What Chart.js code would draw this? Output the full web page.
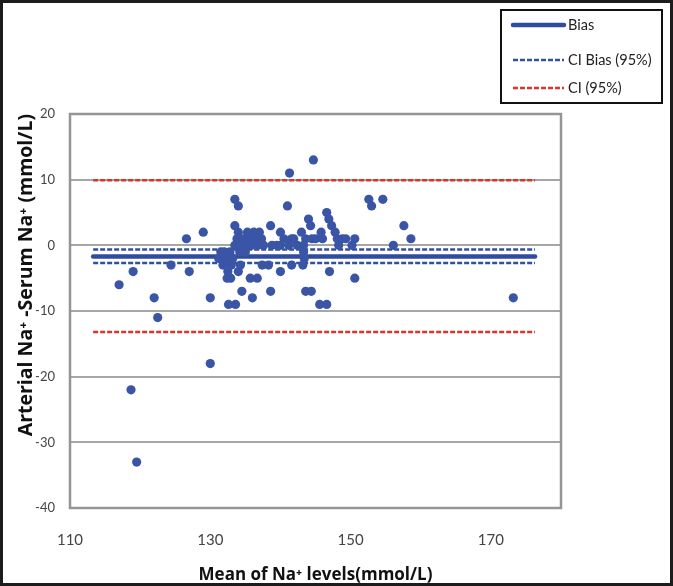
<!DOCTYPE html>
<html>
<head>
<meta charset="utf-8">
<script src="https://cdn.jsdelivr.net/npm/chart.js@4"></script>
<style>
  html, body { margin: 0; padding: 0; background: #fff; }
</style>
</head>
<body>
<canvas id="chart" width="673" height="586"></canvas>
<script>
// mean of arterial and serum Na+ (x) and their difference (y)
const meanNa = [
  117, 119, 118.7, 119.5, 122, 122.5, 124.4, 126.6, 127, 129, 130, 130,
  131.2, 131.5, 131.8, 132.2, 132.4, 132.9, 132.5, 132.8, 133, 133.2, 132,
  133.6, 132.6, 134, 134.3, 134.5, 135.7, 136.7, 136, 137.4, 138.6, 140, 141.6,
  133.5, 134, 133.5, 133.5, 133.8, 134, 134.4, 134.7, 135, 135.1, 135.3, 135.6,
  135.9, 136.2, 136.5, 136.8, 137, 137.3, 137.6, 134.2, 138.6, 140, 140, 141.2,
  138.8, 141.3, 141, 138.3, 139.5, 142.4, 141.9, 140.5,
  141.6, 143, 144, 144.3, 143.6, 144.5, 145.8, 146, 145, 143.3, 143.3, 143.4,
  143.2, 147, 150.6, 143.6, 144.4, 145.6, 146.6, 146.6, 146.9, 147.3, 147.8,
  148.1, 148.8, 149.3, 148.3, 150.6, 150.2, 144.7, 152.6, 153, 154.6, 157.6,
  158.6, 156.1, 173.2
];
const diffNa = [
  -6, -4, -22, -33, -8, -11, -3, 1, -4, 2, -8, -18,
  -2, -1, -3, -2, -5, -5, -4, -1, -3, -2, -1,
  -9, -9, -4, -3, -7, -5, -5, -8, -3, -7, -4, -3,
  7, 6, 3, 0, 1, 2, 0, 1, -1, 0, 2, 1,
  0, 2, 1, 0, 2, 1, 0, -1, 3, 2, 0, 0,
  0, 11, 6, -3, 0, 0, 1, 1,
  1, 2, 4, 3, 1, 1, 2, 1, 1, 0, -1, -2,
  -3, -4, -5, -7, -7, -9, -9, 5, 4, 3, 2,
  1, 1, 1, 0, 1, 0, 13, 7, 6, 7, 3,
  1, 0, -8
];

const biasValue = -1.7;
const ciBias = [-0.65, -2.7];
const ci95 = [9.9, -13.2];
const lineSpan = [113.3, 176.3];
const xTicks = [110, 130, 150, 170];

const FONT = 'Lato, "Open Sans", sans-serif';
const TITLE_FONT = '"Open Sans", Lato, sans-serif';

function levelLines(levels) {
  const pts = [];
  levels.forEach((v, i) => {
    if (i > 0) pts.push({ x: lineSpan[1], y: null });
    lineSpan.forEach(x => pts.push({ x: x, y: v }));
  });
  return pts;
}

// gray frame round the plot area + black border round the whole picture
const framePlugin = {
  id: 'frame',
  beforeDatasetsDraw(chart) {
    const { ctx, chartArea: a } = chart;
    ctx.save();
    ctx.strokeStyle = '#959595';
    ctx.lineWidth = 2.5;
    ctx.strokeRect(a.left, a.top, a.right - a.left, a.bottom - a.top);
    ctx.restore();
  },
  afterDraw(chart) {
    const ctx = chart.ctx;
    ctx.save();
    ctx.strokeStyle = '#1c1c1c';
    ctx.lineWidth = 3;
    ctx.strokeRect(1.5, 1.5, chart.width - 3, chart.height - 3);
    ctx.restore();
  }
};

// boxed legend in the top right corner
const boxLegend = {
  id: 'boxLegend',
  afterDraw(chart) {
    const ctx = chart.ctx;
    const rows = [25, 60, 88];
    ctx.save();
    ctx.strokeStyle = '#111';
    ctx.lineWidth = 2;
    ctx.strokeRect(501, 10, 161, 93);
    chart.data.datasets.filter(d => d.inLegend).forEach((d, i) => {
      const y = rows[i];
      ctx.beginPath();
      ctx.strokeStyle = d.borderColor;
      ctx.lineWidth = d.borderWidth;
      ctx.lineCap = d.borderCapStyle || 'butt';
      ctx.setLineDash(d.borderDash || []);
      ctx.moveTo(513, y);
      ctx.lineTo(564, y);
      ctx.stroke();
      ctx.setLineDash([]);
      ctx.fillStyle = '#222';
      ctx.font = '14.5px ' + FONT;
      ctx.textBaseline = 'middle';
      ctx.fillText(d.label, 568, y);
    });
    ctx.restore();
  }
};

const ctx = document.getElementById('chart').getContext('2d');
new Chart(ctx, {
  type: 'scatter',
  data: {
    datasets: [
      {
        label: 'Data',
        data: meanNa.map((x, i) => ({ x: x, y: diffNa[i] })),
        backgroundColor: '#3a55a6',
        borderColor: '#3a55a6',
        borderWidth: 0,
        pointRadius: 4.6
      },
      {
        label: 'Bias',
        inLegend: true,
        data: levelLines([biasValue]),
        showLine: true,
        borderColor: '#2f4c9f',
        borderWidth: 4.5,
        borderCapStyle: 'round',
        pointRadius: 0
      },
      {
        label: 'CI Bias (95%)',
        inLegend: true,
        data: levelLines(ciBias),
        showLine: true,
        spanGaps: false,
        borderColor: '#33509f',
        borderWidth: 2.5,
        borderDash: [5, 2],
        pointRadius: 0
      },
      {
        label: 'CI (95%)',
        inLegend: true,
        data: levelLines(ci95),
        showLine: true,
        spanGaps: false,
        borderColor: '#d8352b',
        borderWidth: 2.5,
        borderDash: [5, 2],
        pointRadius: 0
      }
    ]
  },
  options: {
    responsive: false,
    animation: false,
    layout: { padding: { top: 114, right: 112 } },
    plugins: { legend: { display: false }, tooltip: { enabled: false } },
    scales: {
      x: {
        type: 'linear',
        min: 110,
        max: 180,
        afterBuildTicks: s => { s.ticks = xTicks.map(v => ({ value: v })); },
        afterFit: s => { s.height = 78; },
        grid: { display: false, drawTicks: false },
        border: { display: false },
        ticks: { padding: 23, color: '#444', font: { family: FONT, size: 15 } },
        title: {
          display: true,
          text: 'Mean of Na⁺ levels(mmol/L)',
          color: '#111',
          padding: { top: 0, bottom: 1 },
          font: { family: TITLE_FONT, size: 17, weight: 'bold' }
        }
      },
      y: {
        min: -40,
        max: 20,
        afterFit: s => { s.width = 70; },
        grid: { color: '#a6a6a6', lineWidth: 2, drawTicks: false },
        border: { display: false },
        ticks: { stepSize: 10, padding: 15, color: '#444', font: { family: FONT, size: 13 } },
        title: {
          display: true,
          align: 'end',
          text: 'Arterial Na⁺ -Serum Na⁺ (mmol/L)',
          color: '#111',
          padding: { top: 15, bottom: 0 },
          font: { family: TITLE_FONT, size: 19.5, weight: 'bold' }
        }
      }
    }
  },
  plugins: [framePlugin, boxLegend]
});
</script>
</body>
</html>
